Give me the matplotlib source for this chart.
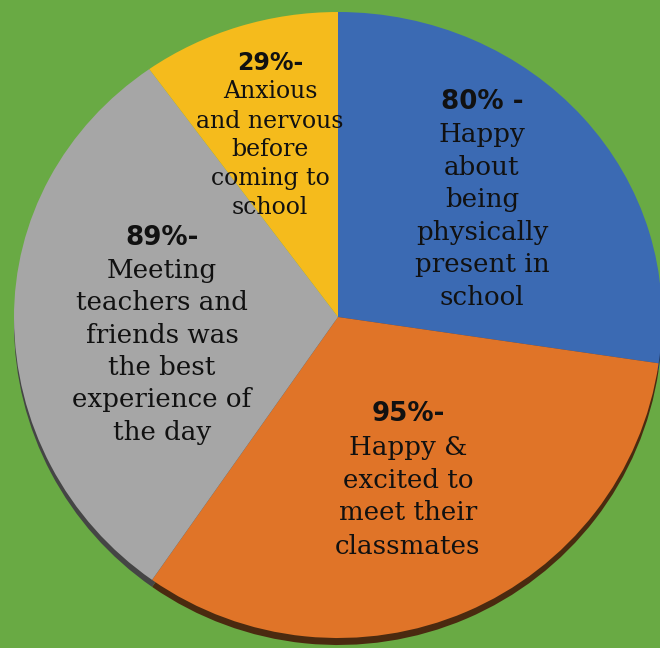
import matplotlib
matplotlib.use("Agg")
import matplotlib.pyplot as plt

# ---- data ----
values = [80, 95, 89, 29]
pct_labels = ["80% -", "95%-", "89%-", "29%-"]
descriptions = [
    ["Happy", "about", "being", "physically", "present in", "school"],
    ["Happy &", "excited to", "meet their", "classmates"],
    ["Meeting", "teachers and", "friends was", "the best", "experience of", "the day"],
    ["Anxious", "and nervous", "before", "coming to", "school"],
]
colors = ["#3b6ab3", "#e07428", "#a6a6a6", "#f5bb1c"]
shadow_colors = ["#1f3a66", "#4a2a10", "#454545", "#7a5c0c"]
bg = "#69aa44"

# ---- layout (pixels in a 660x648 canvas) ----
W, H = 660, 648
cx, cy = 338, 317          # pie apex
rx = 324                   # horizontal radius
ry_top, ry_bot = 305, 321  # slight perspective tilt
shadow_px = 7
# label block: (center x px, first line y px, line spacing px, font size)
blocks = [
    (482, 102, 32.6, 18.8),
    (408, 414, 33.0, 18.8),
    (162, 238, 32.4, 18.8),
    (270, 63, 29.0, 17.0),
]

fig = plt.figure(figsize=(W / 100, H / 100), dpi=100)
fig.patch.set_facecolor(bg)

xl = (-cx / rx, (W - cx) / rx)


def draw_pie(ax, cols, center):
    wedges, _ = ax.pie(values, colors=cols, startangle=90, counterclock=False,
                       radius=1.0, center=center, frame=True,
                       wedgeprops=dict(linewidth=0))
    for w in wedges:
        w.set_clip_on(True)
        w.set_clip_path(ax.patch)
    return wedges


# lower half of the pie (with 3D rim shadow)
ax_bot = fig.add_axes([0, 0, 1, (H - cy) / H])
draw_pie(ax_bot, shadow_colors, (0, -shadow_px / ry_bot))
draw_pie(ax_bot, colors, (0, 0))
ax_bot.set_aspect("auto")
ax_bot.set_xlim(*xl)
ax_bot.set_ylim(-(H - cy) / ry_bot, 0)
ax_bot.axis("off")

# upper half of the pie
ax_top = fig.add_axes([0, (H - cy) / H, 1, cy / H])
draw_pie(ax_top, colors, (0, 0))
ax_top.set_aspect("auto")
ax_top.set_xlim(*xl)
ax_top.set_ylim(0, cy / ry_top)
ax_top.axis("off")

for (bx, by, sp, fs), pct, lines in zip(blocks, pct_labels, descriptions):
    fig.text(bx / W, 1 - by / H, pct, ha="center", va="center",
             fontsize=fs, fontweight="bold", family="DejaVu Sans", color="#111111")
    for i, ln in enumerate(lines):
        y = by + sp * (i + 1)
        fig.text(bx / W, 1 - y / H, ln, ha="center", va="center",
                 fontsize=fs, family="DejaVu Serif", color="#111111")

fig.savefig("out.png", dpi=100, facecolor=bg)
